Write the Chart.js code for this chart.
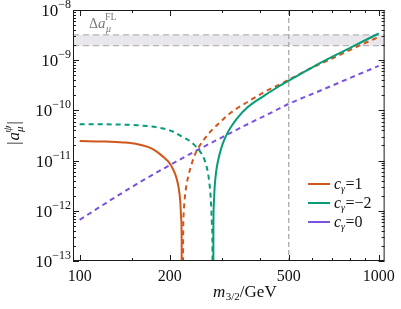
<!DOCTYPE html>
<html>
<head>
<meta charset="utf-8">
<script src="https://cdn.jsdelivr.net/npm/chart.js@4.4.1/dist/chart.umd.min.js"></script>
<style>
  html, body { margin: 0; padding: 0; background: #fff; }
</style>
</head>
<body>
<canvas id="chartAmu" width="401" height="309"></canvas>
<script>
// gravitino mass (GeV) and |a_mu|
const orangeSolidM = [100, 120, 140, 155, 170, 180, 190, 198, 205, 210, 214, 217, 218.5, 219.3, 219.6];
const orangeSolidA = [2.45e-11, 2.4e-11, 2.3e-11, 2.15e-11, 1.85e-11, 1.55e-11, 1.2e-11, 9.5e-12, 6.8e-12, 4.8e-12, 3.0e-12, 1.5e-12, 7e-13, 2.5e-13, 1e-15];

const orangeDashM = [221.3, 221.8, 222.5, 224, 227, 231, 236, 242, 250, 260, 275, 290, 320, 364, 413, 469, 520, 574, 630, 685, 750, 819, 900, 1000];
const orangeDashA = [1e-15, 3e-13, 8e-13, 1.5e-12, 3.0e-12, 5.0e-12, 8.0e-12, 1.25e-11, 1.85e-11, 2.6e-11, 3.9e-11, 5.3e-11, 9.0e-11, 1.47e-10, 2.3e-10, 3.35e-10, 4.6e-10, 6.3e-10, 8.2e-10, 1.02e-9, 1.32e-9, 1.7e-9, 2.2e-9, 2.9e-9];

const greenDashM = [100, 130, 160, 185, 205, 220, 235, 245, 255, 262, 268, 272, 275, 277, 278, 278.4];
const greenDashA = [5.3e-11, 5.25e-11, 5.0e-11, 4.5e-11, 3.8e-11, 3.0e-11, 2.4e-11, 1.9e-11, 1.4e-11, 1.0e-11, 6.0e-12, 3.2e-12, 1.4e-12, 5e-13, 1.5e-13, 1e-15];

const greenSolidM = [279.4, 280, 281, 282.5, 284.5, 287, 291, 296, 302, 310, 320, 335, 364, 413, 450, 500, 550, 604, 690, 778, 880, 1000];
const greenSolidA = [1e-15, 5e-13, 1.4e-12, 2.8e-12, 4.6e-12, 7e-12, 1.08e-11, 1.6e-11, 2.3e-11, 3.3e-11, 4.6e-11, 6.8e-11, 1.15e-10, 1.95e-10, 2.7e-10, 3.9e-10, 5.4e-10, 7.4e-10, 1.12e-9, 1.6e-9, 2.33e-9, 3.4e-9];

const purpleM = [100, 130, 160, 200, 250, 300, 364, 430, 500, 619, 800, 1000];
const purpleA = [6.6e-13, 1.79e-12, 3.8e-12, 8.1e-12, 1.67e-11, 2.93e-11, 5.3e-11, 8.6e-11, 1.35e-10, 2.3e-10, 4.4e-10, 7.7e-10];

const legendNames = ['=1', '=\u22122', '=0'];
const xTickVals = [100, 200, 500, 1000];
const xTickText = ['100', '200', '500', '1000'];
const xMinorVals = [150, 300, 400, 600, 700, 800, 900];
const yTickExp = [-13, -12, -11, -10, -9, -8];
const bandLow = 1.95e-9;
const bandHigh = 3.2e-9;
const markerMass = 500;

const cOrange = '#d0561a';
const cGreen = '#079c78';
const cPurple = '#7b52e0';
const serif = '"Liberation Serif", "DejaVu Serif", serif';

function toPts(m, a) {
    return m.map((v, i) => ({ x: v, y: a[i] }));
}

function lineSet(m, a, color, dashed) {
    return {
        data: toPts(m, a),
        borderColor: color,
        borderWidth: 2,
        borderDash: dashed ? [5, 4] : [],
        pointRadius: 0,
        fill: false,
        cubicInterpolationMode: 'monotone'
    };
}

// draws the text pieces one after another: [text, size, italic, dy, extra gap]
function drawRich(ctx, x, y, parts, color) {
    ctx.fillStyle = color;
    ctx.textAlign = 'left';
    ctx.textBaseline = 'alphabetic';
    parts.forEach(p => {
        ctx.font = (p[2] ? 'italic ' : '') + p[1] + 'px ' + serif;
        ctx.fillText(p[0], x, y + p[3]);
        x += ctx.measureText(p[0]).width + (p[4] || 0);
    });
    return x;
}

function richWidth(ctx, parts) {
    let w = 0;
    parts.forEach(p => {
        ctx.font = (p[2] ? 'italic ' : '') + p[1] + 'px ' + serif;
        w += ctx.measureText(p[0]).width + (p[4] || 0);
    });
    return w;
}

const framePlugin = {
    id: 'frame',
    beforeDatasetsDraw(chart) {
        const { ctx, chartArea: ca, scales } = chart;
        const x = scales.x, y = scales.y;
        ctx.save();
        // measured band
        const yTop = y.getPixelForValue(bandHigh);
        const yBot = y.getPixelForValue(bandLow);
        ctx.fillStyle = '#e9e7ec';
        ctx.fillRect(ca.left, yTop, ca.right - ca.left, yBot - yTop);
        ctx.strokeStyle = '#b4b4b4';
        ctx.lineWidth = 1.2;
        ctx.setLineDash([6, 4]);
        [yTop, yBot].forEach(py => {
            ctx.beginPath();
            ctx.moveTo(ca.left, py);
            ctx.lineTo(ca.right, py);
            ctx.stroke();
        });
        // vertical marker
        const px = x.getPixelForValue(markerMass);
        ctx.strokeStyle = '#adadad';
        ctx.lineWidth = 1.4;
        ctx.setLineDash([5, 3]);
        ctx.beginPath();
        ctx.moveTo(px, ca.top);
        ctx.lineTo(px, ca.bottom);
        ctx.stroke();
        ctx.restore();
    },
    afterDraw(chart) {
        const { ctx, chartArea: ca, scales } = chart;
        const x = scales.x, y = scales.y;
        ctx.save();
        ctx.strokeStyle = '#1a1a1a';
        ctx.lineWidth = 1;
        ctx.setLineDash([]);
        ctx.strokeRect(ca.left + 0.5, ca.top + 0.5, ca.right - ca.left - 1, ca.bottom - ca.top - 1);

        // inward ticks
        function xTick(v, len) {
            const px = Math.round(x.getPixelForValue(v)) + 0.5;
            ctx.beginPath();
            ctx.moveTo(px, ca.bottom); ctx.lineTo(px, ca.bottom - len);
            ctx.moveTo(px, ca.top); ctx.lineTo(px, ca.top + len);
            ctx.stroke();
        }
        function yTick(v, len) {
            const py = Math.round(y.getPixelForValue(v)) + 0.5;
            ctx.beginPath();
            ctx.moveTo(ca.left, py); ctx.lineTo(ca.left + len, py);
            ctx.moveTo(ca.right, py); ctx.lineTo(ca.right - len, py);
            ctx.stroke();
        }
        xTickVals.forEach(v => xTick(v, 6));
        xMinorVals.forEach(v => xTick(v, 3));
        yTickExp.forEach(e => {
            yTick(Math.pow(10, e), 6);
            if (e < -8) {
                for (let k = 2; k <= 9; k++) yTick(k * Math.pow(10, e), 3);
            }
        });

        // y tick labels with exponents
        yTickExp.forEach(e => {
            const py = y.getPixelForValue(Math.pow(10, e));
            const parts = [['10', 17, false, 0], ['\u2212' + Math.abs(e), 12, false, -8]];
            const w = richWidth(ctx, parts);
            drawRich(ctx, 71 - w, py + 6, parts, '#111');
        });

        // axis titles
        drawRich(ctx, 213, 297, [
            ['m', 17, true, 0, 0.5], ['3/2', 11, false, 3], ['/GeV', 17, false, 0]
        ], '#111');

        ctx.save();
        ctx.translate(19, 133);
        ctx.rotate(-Math.PI / 2);
        const yTitle = [['|', 16, false, 0, 1], ['a', 17, true, 0, 0], ['\u03bc', 11, true, 4, -6], ['\u03c8', 11, true, -8, 1], ['|', 16, false, 0]];
        drawRich(ctx, -richWidth(ctx, yTitle) / 2, 0, yTitle, '#111');
        ctx.restore();

        // band label
        drawRich(ctx, 89, 28, [
            ['\u0394', 14, false, 0], ['a', 15, true, 0, 0.5], ['\u03bc', 10, true, 4, -6], ['FL', 10, false, -8]
        ], '#7a7a7a');

        // legend
        const colors = [cOrange, cGreen, cPurple];
        const rows = [184, 203, 222];
        rows.forEach((ry, i) => {
            ctx.strokeStyle = colors[i];
            ctx.lineWidth = 2;
            ctx.beginPath();
            ctx.moveTo(308, ry);
            ctx.lineTo(330, ry);
            ctx.stroke();
            drawRich(ctx, 334, ry + 5, [
                ['c', 16, true, 0], ['\u03b3', 10, true, 3, 0.5], [legendNames[i], 16, false, 0]
            ], '#111');
        });
        ctx.restore();
    }
};

const ctx = document.getElementById('chartAmu').getContext('2d');

new Chart(ctx, {
    type: 'line',
    data: {
        datasets: [
            lineSet(greenSolidM, greenSolidA, cGreen, false),
            lineSet(greenDashM, greenDashA, cGreen, true),
            lineSet(orangeSolidM, orangeSolidA, cOrange, false),
            lineSet(orangeDashM, orangeDashA, cOrange, true),
            lineSet(purpleM, purpleA, cPurple, true)
        ]
    },
    options: {
        responsive: false,
        animation: false,
        devicePixelRatio: 1,
        layout: { padding: { left: 0, right: 12, top: 10, bottom: 0 } },
        plugins: {
            legend: { display: false },
            tooltip: { enabled: false }
        },
        scales: {
            x: {
                type: 'logarithmic',
                min: 95,
                max: 1046,
                afterBuildTicks: s => { s.ticks = xTickVals.map(v => ({ value: v })); },
                afterFit: s => { s.height = 48; },
                grid: { display: false, drawTicks: false },
                border: { display: false },
                ticks: {
                    autoSkip: false,
                    maxRotation: 0,
                    padding: 6,
                    color: '#111',
                    font: { family: serif, size: 16 },
                    callback: v => {
                        const i = xTickVals.indexOf(v);
                        return i >= 0 ? xTickText[i] : '';
                    }
                }
            },
            y: {
                type: 'logarithmic',
                min: 1e-13,
                max: 1e-8,
                afterBuildTicks: s => { s.ticks = yTickExp.map(e => ({ value: Math.pow(10, e) })); },
                afterFit: s => { s.width = 73; },
                grid: { display: false, drawTicks: false },
                border: { display: false },
                ticks: { display: false }
            }
        }
    },
    plugins: [framePlugin]
});
</script>
</body>
</html>
